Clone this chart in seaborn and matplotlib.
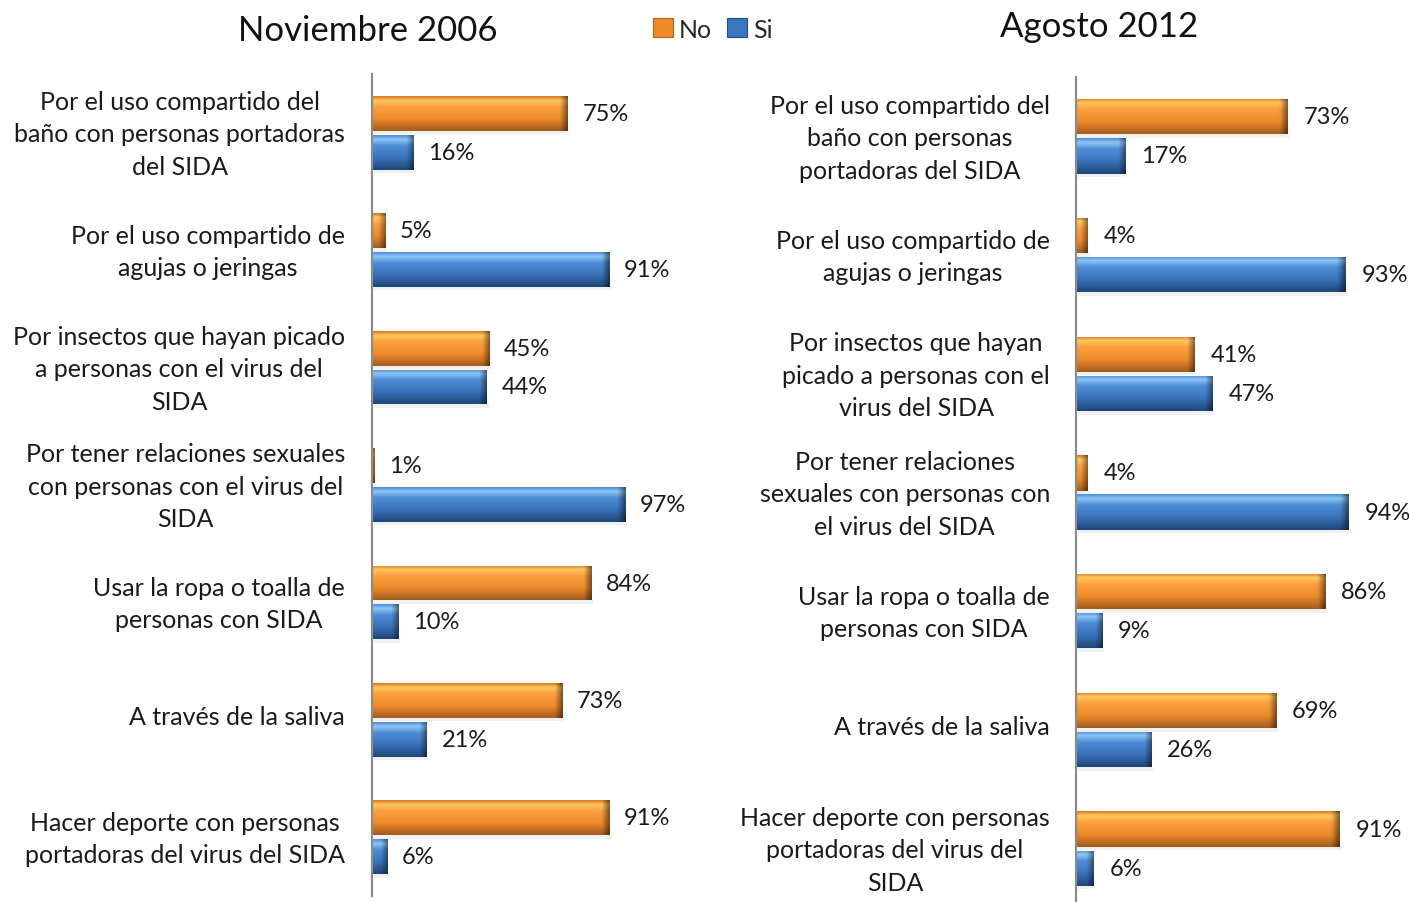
import numpy as np
import pandas as pd
import matplotlib
matplotlib.use("Agg")
import matplotlib.pyplot as plt
import matplotlib.transforms as mtransforms
import seaborn as sns
from matplotlib.patches import Patch
from matplotlib.colors import to_rgb

# ---------------- data ----------------
cats_2006 = [
    "Por el uso compartido del\nbaño con personas portadoras\ndel SIDA",
    "Por el uso compartido de\nagujas o jeringas",
    "Por insectos que hayan picado\na personas con el virus del\nSIDA",
    "Por tener relaciones sexuales\ncon personas con el virus del\nSIDA",
    "Usar la ropa o toalla de\npersonas con SIDA",
    "A través de la saliva",
    "Hacer deporte con personas\nportadoras del virus del SIDA",
]
cats_2012 = [
    "Por el uso compartido del\nbaño con personas\nportadoras del SIDA",
    "Por el uso compartido de\nagujas o jeringas",
    "Por insectos que hayan\npicado a personas con el\nvirus del SIDA",
    "Por tener relaciones\nsexuales con personas con\nel virus del SIDA",
    "Usar la ropa o toalla de\npersonas con SIDA",
    "A través de la saliva",
    "Hacer deporte con personas\nportadoras del virus del\nSIDA",
]
no_2006 = [75, 5, 45, 1, 84, 73, 91]
si_2006 = [16, 91, 44, 97, 10, 21, 6]
no_2012 = [73, 4, 41, 4, 86, 69, 91]
si_2012 = [17, 93, 47, 94, 9, 26, 6]
series = ["No", "Si"]
title_2006 = "Noviembre 2006"
title_2012 = "Agosto 2012"

# ---------------- style ----------------
sns.set_theme(style="white")
plt.rcParams["font.family"] = ["Lato", "DejaVu Sans"]

ORANGE = "#F08A2A"
BLUE = "#3B76C2"
grad_stops = {
    "No": [(0.0, "#D9782A"), (0.12, "#FFC85E"), (0.3, "#FBA040"), (0.65, "#EE8A2C"), (1.0, "#A25C1E")],
    "Si": [(0.0, "#4F8ED6"), (0.12, "#8EC6F6"), (0.3, "#4E8ED6"), (0.65, "#3A72BA"), (1.0, "#1E4677")],
}


def make_profile(stops, n=64):
    t = np.linspace(0, 1, n)
    pos = [s[0] for s in stops]
    cols = np.array([to_rgb(s[1]) for s in stops])
    return np.stack([np.interp(t, pos, cols[:, k]) for k in range(3)], axis=1)


def long_df(cats, no, si):
    rows = []
    for c, a, b in zip(cats, no, si):
        rows.append((c, "No", a))
        rows.append((c, "Si", b))
    return pd.DataFrame(rows, columns=["cat", "serie", "val"])


W, H = 1409, 903
fig = plt.figure(figsize=(W / 100, H / 100), dpi=100)


def px_axes(x0, x1, ytop, ybot):
    return fig.add_axes([x0 / W, 1 - ybot / H, (x1 - x0) / W, (ybot - ytop) / H])


def draw_panel(ax, cats, no, si, label_pad_px, val_off):
    df = long_df(cats, no, si)
    sns.barplot(data=df, y="cat", x="val", hue="serie", hue_order=series,
                palette={"No": ORANGE, "Si": BLUE}, orient="h",
                width=0.66, gap=0.1, legend=False, ax=ax, saturation=1,
                edgecolor="none")
    ax.set_xlim(0, 100)
    ax.set_ylim(6.5, -0.5)
    ax.set_xlabel("")
    ax.set_ylabel("")
    ax.set_xticks([])
    for s in ["top", "right", "bottom"]:
        ax.spines[s].set_visible(False)
    ax.spines["left"].set_color("#8C8C8C")
    ax.spines["left"].set_linewidth(1.6)
    ax.tick_params(axis="y", length=0, pad=label_pad_px * 0.72, labelsize=18)
    shift = mtransforms.ScaledTranslation(0, 0.055, fig.dpi_scale_trans)
    for lab in ax.get_yticklabels():
        lab.set_multialignment("center")
        lab.set_linespacing(1.5)
        lab.set_color("#1a1a1a")
        lab.set_transform(lab.get_transform() + shift)

    # gradient fill for each bar
    bbox = ax.get_window_extent()
    px_per_unit = bbox.width / 100.0
    patches = list(ax.patches)
    n = len(cats)
    for i, p in enumerate(patches):
        serie = "No" if i < n else "Si"
        x0, y0 = p.get_x(), p.get_y()
        w, h = p.get_width(), p.get_height()
        if w <= 0:
            continue
        prof = make_profile(grad_stops[serie])
        ncol = 100
        img = np.repeat(prof[:, None, :], ncol, axis=1)
        wpx = w * px_per_unit
        xs = np.linspace(0, wpx, ncol)
        edge = np.clip((xs - (wpx - 7)) / 7, 0, 1)
        img = img * (1 - 0.45 * edge)[None, :, None]
        # slight shadow below
        ax.add_patch(plt.Rectangle((x0 + 2 / px_per_unit, y0 + h), w, 0.03,
                                   color="#000000", alpha=0.06, lw=0, zorder=1))
        im = ax.imshow(img, extent=(x0, x0 + w, y0 + h, y0), aspect="auto",
                       interpolation="bilinear", zorder=p.get_zorder() + 0.1)
        im.set_clip_path(p)
        val = no[i] if i < n else si[i - n]
        ax.annotate(f"{val}%", xy=(x0 + w, y0 + h / 2), xytext=(val_off, 0),
                    textcoords="offset points", va="center", ha="left",
                    fontsize=17, color="#1a1a1a", annotation_clip=False)
    ax.set_xlim(0, 100)
    ax.set_ylim(6.5, -0.5)


ax1 = px_axes(372, 633, 75, 897)
draw_panel(ax1, cats_2006, no_2006, si_2006, 27, 10.5)
ax2 = px_axes(1076, 1366, 78, 909)
draw_panel(ax2, cats_2012, no_2012, si_2012, 26, 11.5)

fig.text(368 / W, 1 - 31 / H, title_2006, ha="center", va="center", fontsize=25, color="#111111")
fig.text(1099 / W, 1 - 27 / H, title_2012, ha="center", va="center", fontsize=25, color="#111111")

handles = [Patch(facecolor=ORANGE, edgecolor="#B06420", lw=0.8),
           Patch(facecolor=BLUE, edgecolor="#24508A", lw=0.8)]
fig.legend(handles, series, loc="center", bbox_to_anchor=(713 / W, 1 - 30 / H),
           ncol=2, frameon=False, fontsize=18, handlelength=0.8, handleheight=0.8,
           handletextpad=0.25, columnspacing=0.6, borderpad=0)

fig.savefig("out.png", dpi=100)
